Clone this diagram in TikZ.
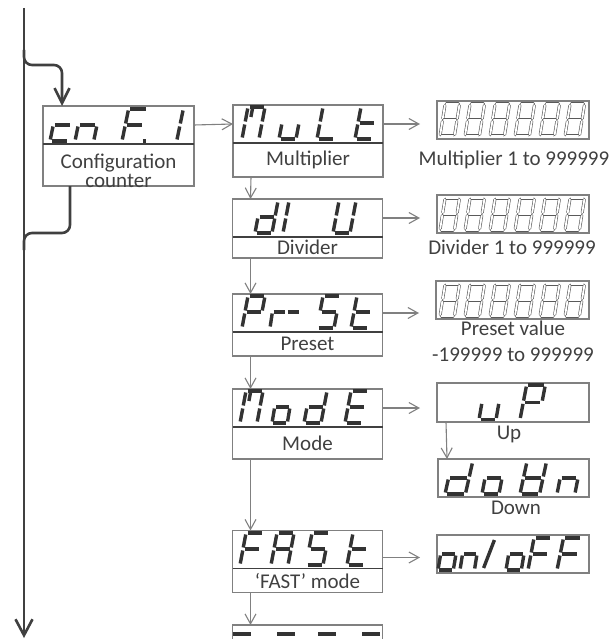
\documentclass[tikz,border=0pt]{standalone}
\usepackage{fontspec}
\setmainfont{Carlito}
\usetikzlibrary{arrows.meta,positioning}
\definecolor{FlowGray}{HTML}{404040}
\definecolor{BoxGray}{HTML}{808080}
\definecolor{SegDark}{HTML}{333333}
\definecolor{TextGray}{HTML}{404040}

% segment paths of one slanted digit, 32pt tall
\def\sgma{(7.5,0)--(21.5,0)}
\def\sgmb{(22.72,1.5)--(20.28,14.5)}
\def\sgmc{(19.72,17.5)--(17.28,30.5)}
\def\sgmd{(1.5,32)--(15.5,32)}
\def\sgme{(2.72,17.5)--(0.28,30.5)}
\def\sgmf{(5.72,1.5)--(3.28,14.5)}
\def\sgmg{(4.5,16)--(18.5,16)}
\def\sgmp{(19,32)--(22,32)}
\def\sgmk{(10.5,1.5)--(8.9,10)}
\def\sgms{(16,2)--(4,30)}

\tikzset{
  segon/.style={draw=SegDark, line width=3.4pt},
  segoff/.style={draw=BoxGray!70!black, line width=0.6pt, double=white, double distance=1.8pt, line cap=round},
  segstyle/.style={segon}
}

% \sevenseg[scope options]{x}{y of top}{segments}
\newcommand{\sevenseg}[4][]{%
  \begin{scope}[shift={(#2,#3)},#1]
    \foreach \s in {#4}{%
      \expandafter\let\expandafter\segpath\csname sgm\s\endcsname
      \draw[segstyle] \segpath;}
  \end{scope}}

\begin{document}
\begin{tikzpicture}[x=1pt, y=-1pt,
    disp/.style={draw=BoxGray, line width=1.2pt, minimum width=150pt, minimum height=38pt,
                 inner sep=0pt, outer sep=0pt},
    lab/.style={draw=BoxGray, line width=1.2pt, minimum width=150pt, inner sep=0pt, outer sep=0pt,
                text=TextGray, font=\fontsize{21pt}{26pt}\selectfont},
    note/.style={text=TextGray, inner sep=0pt, font=\fontsize{21pt}{26pt}\selectfont},
    sepline/.style={draw=FlowGray, line width=1.8pt},
    conn/.style={draw=BoxGray, line width=1.1pt, -{Straight Barb[length=10pt, width=11pt]}},
    flow/.style={draw=FlowGray, line width=2.6pt, rounded corners=8pt},
    node distance=0pt
  ]
  \path[use as bounding box, clip] (0,0) rectangle (613,639);

  % menu entries
  \node[disp, minimum width=151pt] (cnf) at (118.5,125) {};
  \node[lab, minimum width=151pt, minimum height=42pt, below=of cnf] (cnflab) {};
  \node[note, align=center, anchor=north, font=\fontsize{21pt}{19pt}\selectfont]
    (cnftext) at (118.5,154) {Configuration\\counter};
  \node[disp] (mult) at (308,124) {};
  \node[lab, minimum height=34pt, below=of mult] (multlab) {Multiplier};
  \node[disp] (div) at (307.5,218) {};
  \node[lab, minimum height=21pt, below=of div] (divlab) {Divider};
  \node[disp] (prst) at (307.5,313) {};
  \node[lab, minimum height=24pt, below=of prst] (prstlab) {Preset};
  \node[disp] (mode) at (307.5,408) {};
  \node[lab, minimum height=32pt, below=of mode] (modelab) {Mode};
  \node[disp] (fast) at (307.5,549.5) {};
  \node[lab, minimum height=24pt, below=of fast] (fastlab) {`FAST' mode};
  \node[disp] (next) at (307.5,644) {};
  \foreach \n in {cnf,mult,div,prst,mode,fast}
    \draw[sepline] (\n.south west) -- (\n.south east);

  % values
  \node[disp, minimum width=152pt] (val1) at (513,120) {};
  \node[disp, minimum width=152pt] (val2) at (513,214) {};
  \node[disp, minimum width=153pt] (val3) at (512.5,300) {};
  \node[disp, minimum width=152pt, minimum height=39pt] (up) at (513,402.5) {};
  \node[disp, minimum width=151pt] (down) at (513.5,478) {};
  \node[disp, minimum width=152pt] (onoff) at (513,554) {};
  \node[note, anchor=base] (val1text) at (514,165) {Multiplier 1 to 999999};
  \node[note, anchor=base] (val2text) at (512,254) {Divider 1 to 999999};
  \node[note, align=center, anchor=north] (val3text) at (513,321) {Preset value\\-199999 to 999999};
  \node[note, anchor=base] (uptext) at (509,439) {Up};
  \node[note, anchor=base] (downtext) at (516,514) {Down};

  % display texts
  \sevenseg[xscale=1.1]{50}{109}{d,e,g}
  \sevenseg[xscale=1.1]{75}{109}{c,e,g}
  \sevenseg[xscale=1.1]{122}{109}{a,e,f,g,p}
  \sevenseg[xscale=1.1]{158}{109}{b,c}
  \sevenseg{242}{107}{a,b,c,e,f,k}
  \sevenseg{279}{107}{c,d,e}
  \sevenseg{317}{107}{d,e,f}
  \sevenseg{355}{107}{d,e,f,g}
  \sevenseg{255}{201}{b,c,d,e,g}
  \sevenseg{283}{201}{e,f}
  \sevenseg{333}{201}{b,c,d,e,f}
  \sevenseg{242}{296}{a,b,e,f,g}
  \sevenseg[xscale=0.8]{270}{296}{e,g}
  \sevenseg[xscale=0.8]{284}{296}{g}
  \sevenseg{317}{296}{a,c,d,f,g}
  \sevenseg{351}{296}{d,e,f,g}
  \sevenseg{240}{391}{a,b,c,e,f,k}
  \sevenseg[xscale=0.9]{272}{391}{c,d,e,g}
  \sevenseg{304}{391}{b,c,d,e,g}
  \sevenseg{345}{391}{a,d,e,f,g}
  \sevenseg{240}{533}{a,e,f,g}
  \sevenseg{271}{533}{a,b,c,e,f,g}
  \sevenseg{306}{533}{a,c,d,f,g}
  \sevenseg{347}{533}{d,e,f,g}
  \foreach \x in {0,44.5,85.5,129.5}
    \draw[segon, line width=4pt] ([xshift=\x pt, yshift=-9pt]next.north west) -- ++(18,0);
  \foreach \y in {104,198,284}{
    \foreach \x in {440,465,...,565}{
      \sevenseg[xscale=0.85, segstyle/.style=segoff]{\x}{\y}{a,b,c,d,e,f,g}}}
  \sevenseg[xscale=1.0, yscale=1.08]{479}{385}{c,d,e}
  \sevenseg[xscale=1.1, yscale=1.08]{520}{385}{a,b,e,f,g}
  \sevenseg[xscale=1.2]{445}{462}{b,c,d,e,g}
  \sevenseg{482}{462}{c,d,e,g}
  \sevenseg[xscale=1.15]{520}{462}{b,c,d,e,f,g}
  \sevenseg[xscale=1.05]{557}{462}{c,e,g}
  \sevenseg[xscale=0.9]{438}{538}{c,d,e,g}
  \sevenseg[xscale=0.85]{460}{538}{c,e,g}
  \sevenseg[xscale=0.9]{480}{538}{s}
  \sevenseg[xscale=0.9]{506}{538}{c,d,e,g}
  \sevenseg{528}{538}{a,e,f,g}
  \sevenseg[xscale=1.08]{557}{538}{a,e,f,g}

  % connectors
  \draw[conn] (cnf.east) -- (mult.west);
  \draw[conn, shorten >=17pt] (mult.east) -- (mult.east -| val1.west);
  \draw[conn, shorten >=17pt] (div.east) -- (div.east -| val2.west);
  \draw[conn, shorten >=17pt] (prst.east) -- (prst.east -| val3.west);
  \draw[conn, shorten >=17pt] (mode.east) -- (mode.east -| up.west);
  \draw[conn, shorten >=17pt] ([yshift=-8pt]fast.east) -- ([yshift=-8pt]fast.east -| onoff.west);
  \draw[conn] ([xshift=18pt]multlab.south west) -- ([xshift=18pt]div.north west);
  \draw[conn] ([xshift=18pt]divlab.south west) -- ([xshift=18pt]prst.north west);
  \draw[conn] ([xshift=18pt]prstlab.south west) -- ([xshift=18pt]mode.north west);
  \draw[conn] ([xshift=18pt]modelab.south west) -- ([xshift=18pt]fast.north west);
  \draw[conn] ([xshift=18pt]fastlab.south west) -- ([xshift=18pt]next.north west);
  \draw[conn] ([xshift=9pt]up.south west) -- ([xshift=9pt]down.north west);

  % main flow
  \coordinate (flowtop) at (24,8);
  \coordinate (flowend) at (24,638);
  \coordinate (split) at (24,50);
  \coordinate (merge) at (24,250);
  \draw[flow, -{Straight Barb[length=16pt, width=17pt]}] (flowtop) -- (flowend);
  \draw[flow, -{Straight Barb[length=15pt, width=15pt]}] (split)
    |- ([xshift=19pt, yshift=41pt]cnf.north west) -- ([xshift=19pt]cnf.north west);
  \draw[flow] ([xshift=27pt]cnflab.south west) -- ++(0,47) -| (merge);
\end{tikzpicture}
\end{document}
